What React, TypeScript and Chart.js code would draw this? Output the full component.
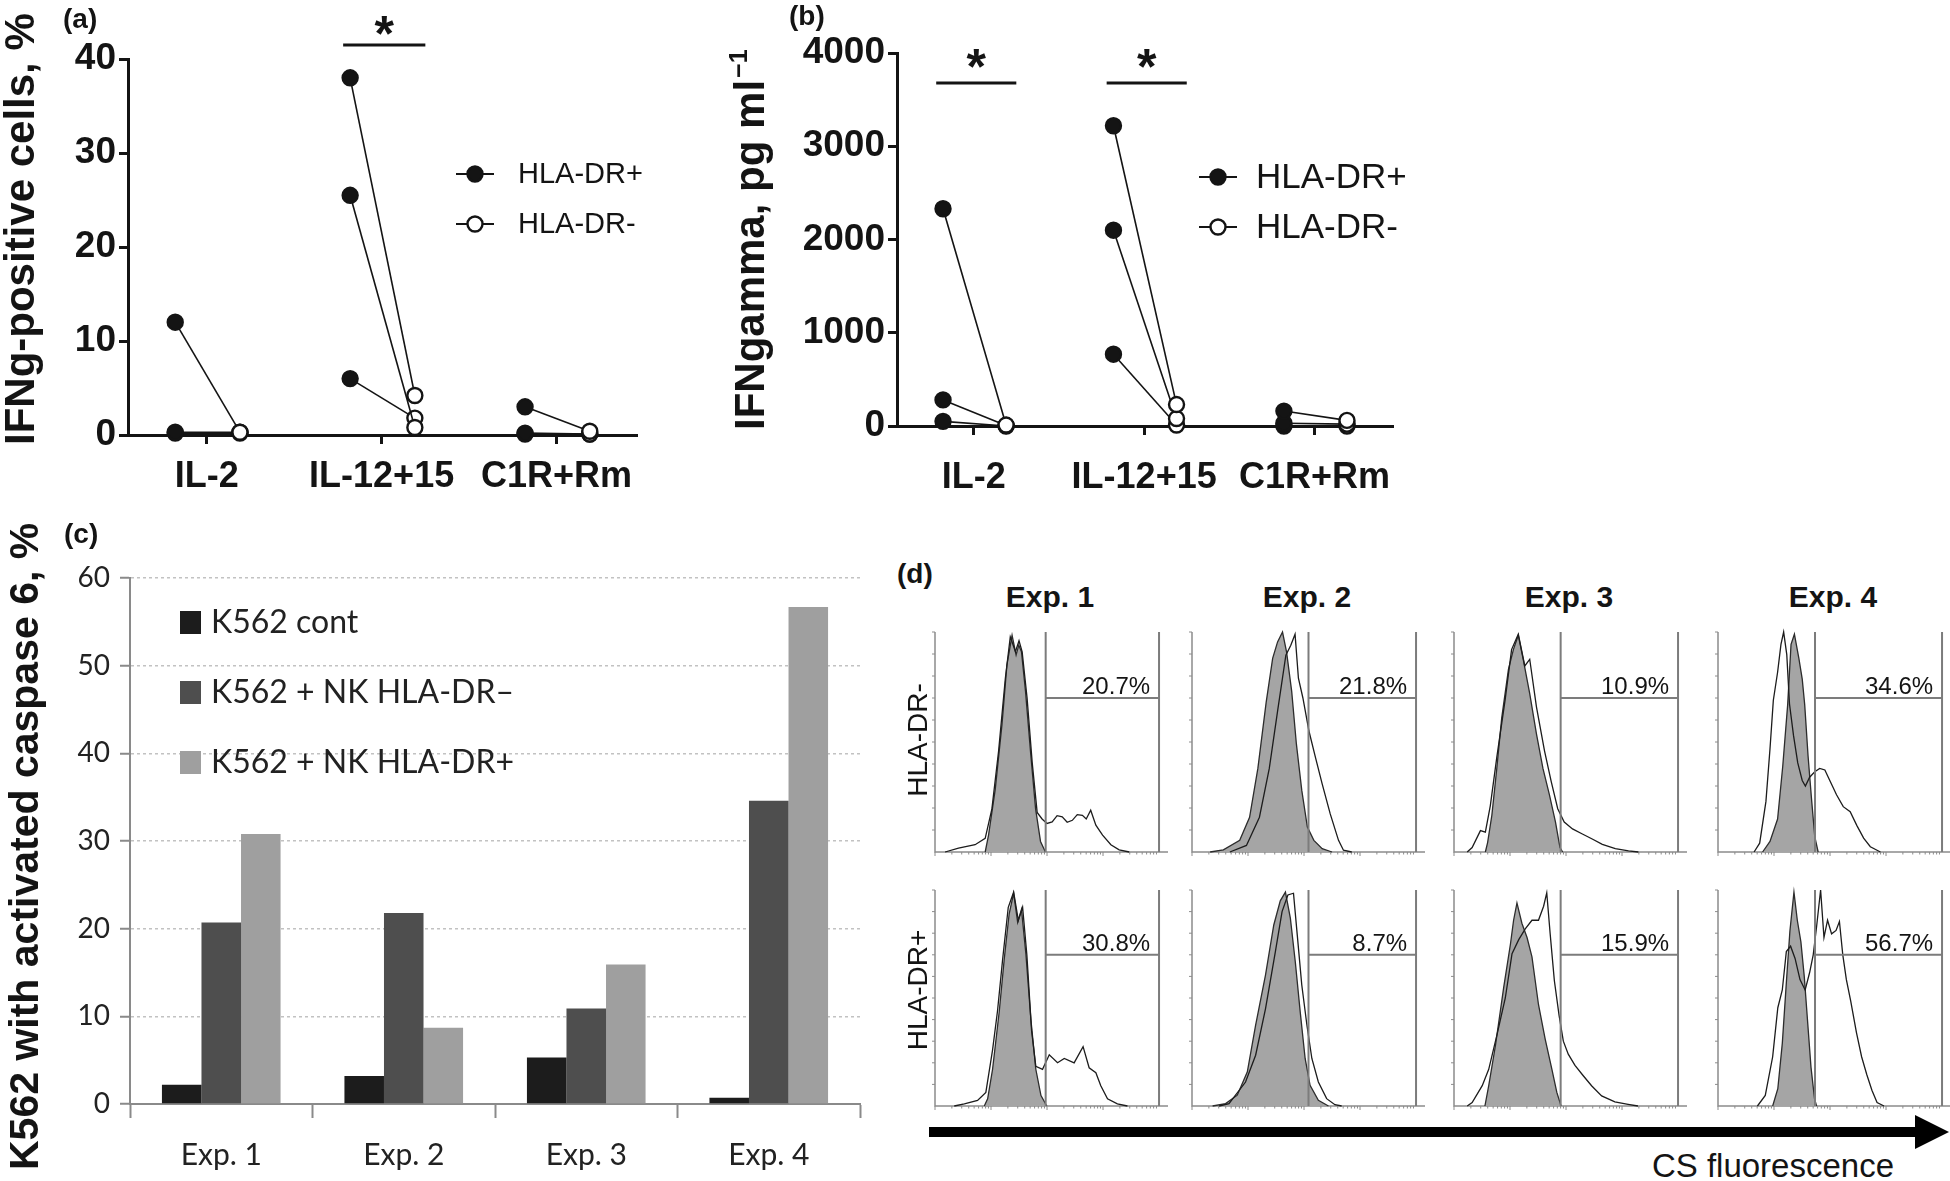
import React, { useEffect, useRef } from 'react';
import { Chart, registerables } from 'chart.js';

Chart.register(...registerables);

const ARIAL = "'Liberation Sans', Arial, Helvetica, sans-serif";
const CALIBRI = "Lato, 'Open Sans', 'Liberation Sans', sans-serif";
const INK = '#141414';

// ---------- (a) IFNg-positive cells, %
const conditions = ['IL-2', 'IL-12+15', 'C1R+Rm'];
const pctTicks = [0, 10, 20, 30, 40];
const pctDrPos = [[12, 0.3, 0.2], [38, 25.5, 6], [3, 0.2, 0.1]];
const pctDrNeg = [[0.3, 0.3, 0.2], [4.2, 0.8, 1.8], [0.4, 0.1, 0.1]];
// ---------- (b) IFNgamma, pg/ml
const concTicks = [0, 1000, 2000, 3000, 4000];
const concDrPos = [[2330, 280, 50], [3220, 2100, 770], [160, 30, 0]];
const concDrNeg = [[10, 5, 0], [230, 80, 10], [60, 20, 0]];
const pairLegend = ['HLA-DR+', 'HLA-DR-'];
const sigCatsA = [2];
const sigCatsB = [1, 2];

// ---------- (c) K562 with activated caspase 6, %
const experiments = ['Exp. 1', 'Exp. 2', 'Exp. 3', 'Exp. 4'];
const caspTicks = [0, 10, 20, 30, 40, 50, 60];
const k562Cont = [2.2, 3.2, 5.3, 0.7];
const k562NkDrNeg = [20.7, 21.8, 10.9, 34.6];
const k562NkDrPos = [30.8, 8.7, 15.9, 56.7];
const barLegend = ['K562 cont', 'K562 + NK HLA-DR\u2013', 'K562 + NK HLA-DR+'];
const barColors = ['#1c1c1c', '#4e4e4e', '#9f9f9f'];

// ---------- (d) CS fluorescence histograms ([channel, count %])
const rowLabels = ['HLA-DR-', 'HLA-DR+'];
const gateStart = [49.4, 52, 47.6, 43.3];
const gateLevel = 70;

const h1NegCtrl = [[22.4,0],[23.9,7.7],[26.9,28.6],[29.9,58],[32.1,85],[34.4,98.5],[36.2,89.6],[37.4,94],[38.6,91],[40.4,73],[42.6,46],[44.9,19.6],[47.1,4.8],[49.3,0]];
const h1NegCs = [[4.5,0],[10.5,1.8],[17.9,3.3],[22.4,6.2],[25.4,19.6],[28.4,46],[31.4,79],[33.6,97.8],[35.9,91],[37.5,96],[38.9,91],[41.1,70],[43.4,40.5],[45.6,18],[47.8,15],[50,13],[52.3,13.7],[54.5,16.5],[56.8,16],[59,13.5],[61.3,14.4],[63.5,17],[65.8,16.7],[67.5,15],[69.5,19],[71.8,12.2],[74.8,7.7],[78.5,3.3],[82.2,1],[86.7,0]];
const h1PosCtrl = [[22,0],[23.5,3.3],[25.7,17],[28.7,44],[30.9,68],[33.1,89],[35.1,98.5],[36.9,85],[38.6,91],[40.6,70],[42.8,40],[45,17],[47.3,4.8],[49.9,0]];
const h1PosCs = [[8.6,0],[13.1,1],[19,2.6],[22.7,6.3],[25.7,26],[27.9,44],[30.2,68],[32.7,92],[35.1,99],[37.2,86],[39.1,92],[41,70],[43.1,35],[45,18.4],[48,17],[51,23.7],[54.7,20],[57.7,22],[62.1,20],[66.1,27.5],[68.8,17.7],[71.8,15.4],[74,9.4],[77,3.3],[81.4,1],[85.9,0]];

const h2NegCtrl = [[8.1,0],[14,1],[21.3,5.3],[25.7,15.8],[29.4,38],[33.1,68],[36,88],[38.2,95.5],[40.4,100],[42.2,91],[44.5,73],[46.6,49],[49,28],[51.5,11.3],[54.4,5.3],[58.1,1.5],[62.5,0]];
const h2NegCs = [[16.9,0],[24.3,3],[30.1,15.8],[34.5,38],[38.2,64],[41.9,89.5],[44.1,94],[46,99],[47.5,79],[49.5,70],[52.2,55],[55.1,43],[58.1,31],[61.7,17.3],[65.4,5.3],[67.6,0.8],[71.3,0]];
const h2PosCtrl = [[9.2,0],[15,1.1],[20.2,5],[24.7,15.8],[28.4,37.4],[32.8,60.6],[36.5,83.8],[39.4,95],[41.7,99],[43.9,87],[46.1,66.8],[48.3,43.6],[50.5,22],[52.7,9.6],[56.4,2.6],[60.9,0]];
const h2PosCs = [[12.1,0],[16.5,1.1],[23.9,11.1],[28.4,23.5],[32.8,45],[37.2,71.4],[40.2,90],[42.8,97.7],[45.3,98.5],[47,79],[49,56],[51.3,37.4],[53.5,22],[56.4,11.1],[60.1,3.4],[63.8,0.6],[66.8,0]];

const h3NegCtrl = [[14,0],[15,4.3],[16.9,16.7],[19.1,38],[21.3,61],[24.3,83],[26.5,92],[28.7,98.5],[30.9,87.6],[33.8,72],[36.8,53.7],[39.7,38],[42.6,26],[45.3,13.6],[47.3,2],[48.5,0]];
const h3NegCs = [[5.9,0],[8.1,2],[11.8,9.7],[14,9],[16.2,21],[19.1,43],[22.8,69],[25.7,92],[28.7,99],[31.6,84.6],[33.8,87.6],[36.8,66],[40.4,46],[43.4,32],[46.3,19.7],[49.2,13.6],[52.9,10.5],[57.3,8.2],[61.7,5.9],[66.2,3.5],[72,1.5],[77.9,0.5],[82.3,0]];
const h3PosCtrl = [[13.8,0],[15.5,9.4],[18.5,28],[22.2,55],[25.2,75],[26.6,86],[28.1,94],[30.3,84.6],[32.6,78],[34.8,69],[37.7,47],[40.7,31],[43.7,17],[45.9,6.3],[47.8,0]];
const h3PosCs = [[5.9,0],[8.1,1.6],[12.6,9.4],[15.5,17],[19.2,33],[22.9,50],[25.9,70.5],[28.9,77],[31.8,82],[34.8,86],[37.7,86],[40,92.5],[41.4,98.7],[42.9,80],[44.8,58],[46.9,42],[48.8,30],[51,24],[54,18.8],[57.7,14],[61.4,9.4],[65.9,4.7],[71.8,1.9],[77.7,0.8],[82.1,0]];

const h4NegCtrl = [[19.9,0],[23.2,4.8],[26.6,15],[28.9,39],[31.1,67],[32.6,94.4],[34.1,99],[36.1,88],[37.6,78.6],[38.7,67],[40.2,43.6],[41.7,24.6],[43.2,7],[44.7,0]];
const h4NegCs = [[16.1,0],[18.6,4],[21.4,23],[23.2,46.8],[24.7,69],[26.6,81.7],[28.1,94.4],[29.3,100],[30.7,89.7],[31.9,67.4],[33.7,53],[35.6,40.5],[37.6,32.5],[39,30],[40.9,34],[43.2,36.5],[45.4,38],[47.7,37.3],[49.9,32.5],[52.9,26],[55.9,20.6],[59,18.3],[62,12],[65,6.3],[68,2.4],[72.5,0]];
const h4PosCtrl = [[24.4,0],[26.7,8],[28.7,29],[30.5,57],[32.1,81],[33.9,99],[35.4,86],[37,76],[38.5,60],[40,39],[41.5,18],[43.1,3.3],[44,0]];
const h4PosCs = [[17.6,0],[21.1,4.9],[24.4,22.8],[26.7,45.5],[28.7,53.7],[30.5,71.5],[32.4,74],[34.4,68.3],[36.6,58.5],[38.9,53.7],[40.9,61.8],[42.5,70],[44,83],[45.8,100],[47.3,78],[48.9,86],[50.7,79.7],[52.7,81.3],[54.2,85.4],[55.7,70],[57.3,58.5],[59.2,48.8],[61.8,34],[64.1,22.8],[66.4,14.6],[68.7,7.3],[71,1.6],[74.1,0]];

const histCtrl = [[h1NegCtrl, h2NegCtrl, h3NegCtrl, h4NegCtrl], [h1PosCtrl, h2PosCtrl, h3PosCtrl, h4PosCtrl]];
const histCs = [[h1NegCs, h2NegCs, h3NegCs, h4NegCs], [h1PosCs, h2PosCs, h3PosCs, h4PosCs]];
const gatePct = [k562NkDrNeg, k562NkDrPos];

// ---------- layout
const HIST_LEFT = [935, 1192, 1454, 1718];
const HIST_TOP = [632, 890];
const HIST_H = [220, 216];
const HIST_W = 233;
const HP = { left: 14, top: 8, right: 6, bottom: 10 };

function pairDecor(o: any) {
  return {
    id: 'pairDecor',
    afterDraw(chart: any) {
      const { ctx, scales: { x, y } } = chart;
      ctx.save();
      ctx.fillStyle = INK;
      ctx.strokeStyle = INK;
      ctx.font = `bold 28px ${ARIAL}`;
      ctx.textAlign = 'left';
      ctx.textBaseline = 'alphabetic';
      ctx.fillText(o.letter, o.letterX, o.letterY);
      ctx.save();
      ctx.translate(o.titleX, o.titleY);
      ctx.rotate(-Math.PI / 2);
      ctx.font = `bold 42px ${ARIAL}`;
      ctx.fillText(o.title, 0, 0);
      if (o.titleSup) {
        const w = ctx.measureText(o.title).width;
        ctx.font = `bold 25px ${ARIAL}`;
        ctx.fillText(o.titleSup, w + 2, -17);
      }
      ctx.restore();
      o.sig.forEach((ci: number) => {
        const x1 = x.getPixelForValue(ci - 0.22);
        const x2 = x.getPixelForValue(ci + 0.25);
        const yy = y.getPixelForValue(o.sigLevel);
        ctx.lineWidth = 3;
        ctx.beginPath();
        ctx.moveTo(x1, yy);
        ctx.lineTo(x2, yy);
        ctx.stroke();
        ctx.font = `bold 50px ${ARIAL}`;
        ctx.textAlign = 'center';
        ctx.fillText('*', (x1 + x2) / 2, yy - o.starGap + 0.48 * 50);
        ctx.textAlign = 'left';
      });
      pairLegend.forEach((name, i) => {
        const ly = o.legendRows[i];
        ctx.strokeStyle = INK;
        ctx.lineWidth = 2;
        ctx.beginPath();
        ctx.moveTo(o.legendX - 19, ly);
        ctx.lineTo(o.legendX + 19, ly);
        ctx.stroke();
        ctx.beginPath();
        ctx.arc(o.legendX, ly, 7.5, 0, Math.PI * 2);
        ctx.fillStyle = i === 0 ? INK : '#ffffff';
        ctx.fill();
        ctx.lineWidth = 2.4;
        ctx.stroke();
        ctx.fillStyle = INK;
        ctx.font = `${o.legendSize}px ${ARIAL}`;
        ctx.textBaseline = 'middle';
        ctx.fillText(name, o.legendText, ly + 1);
        ctx.textBaseline = 'alphabetic';
      });
      ctx.restore();
    },
  };
}

function pairConfig(o: any) {
  const datasets: any[] = [];
  o.plus.forEach((reps: number[], ci: number) =>
    reps.forEach((v: number, ri: number) => {
      datasets.push({
        data: [
          { x: ci + 1 - 0.18, y: v },
          { x: ci + 1 + 0.19, y: o.minus[ci][ri] },
        ],
        borderColor: INK,
        borderWidth: 1.6,
        pointRadius: 7.5,
        pointHoverRadius: 7.5,
        pointBorderWidth: 2.4,
        pointBackgroundColor: [INK, '#ffffff'],
        pointBorderColor: INK,
        clip: false,
        tension: 0,
      });
    })
  );
  return {
    type: 'line',
    data: { datasets },
    options: {
      animation: false,
      responsive: false,
      devicePixelRatio: 1,
      events: [],
      layout: { padding: { top: o.padTop, right: o.padRight, left: 0, bottom: 0 } },
      plugins: { legend: { display: false }, tooltip: { enabled: false } },
      scales: {
        x: {
          type: 'linear',
          min: 0.55,
          max: 3.46,
          afterBuildTicks: (s: any) => {
            s.ticks = conditions.map((_, i) => ({ value: i + 1 }));
          },
          afterFit: (s: any) => {
            s.height = o.xHeight;
          },
          ticks: {
            callback: (v: number) => conditions[Math.round(v) - 1] ?? '',
            font: { family: ARIAL, size: 36, weight: 'bold' },
            color: INK,
            padding: o.xPad,
            maxRotation: 0,
            autoSkip: false,
          },
          grid: { drawOnChartArea: false, drawTicks: true, tickLength: 9, tickWidth: 3, tickColor: INK },
          border: { color: INK, width: 3 },
        },
        y: {
          min: 0,
          max: o.yTicks[o.yTicks.length - 1],
          afterBuildTicks: (s: any) => {
            s.ticks = o.yTicks.map((v: number) => ({ value: v }));
          },
          afterFit: (s: any) => {
            s.width = o.yWidth;
          },
          ticks: { callback: (v: number) => String(v), font: { family: ARIAL, size: 37, weight: 'bold' }, color: INK, padding: 3 },
          grid: { drawOnChartArea: false, drawTicks: true, tickLength: 9, tickWidth: 3, tickColor: INK },
          border: { color: INK, width: 3 },
        },
      },
    },
    plugins: [pairDecor(o)],
  };
}

const buildA = () =>
  pairConfig({
    plus: pctDrPos,
    minus: pctDrNeg,
    yTicks: pctTicks,
    padTop: 59,
    padRight: 43,
    xHeight: 65,
    xPad: 11,
    yWidth: 128,
    letter: '(a)',
    letterX: 63,
    letterY: 28,
    title: 'IFNg-positive cells, %',
    titleX: 34,
    titleY: 445,
    sig: sigCatsA,
    sigLevel: 41.5,
    starGap: 18,
    legendX: 475,
    legendText: 518,
    legendRows: [174, 224],
    legendSize: 29,
  });

const buildB = () =>
  pairConfig({
    plus: concDrPos,
    minus: concDrNeg,
    yTicks: concTicks,
    padTop: 53,
    padRight: 47,
    xHeight: 74,
    xPad: 21,
    yWidth: 197,
    letter: '(b)',
    letterX: 89,
    letterY: 25,
    title: 'IFNgamma, pg ml',
    titleSup: '\u22121',
    titleX: 64,
    titleY: 430,
    sig: sigCatsB,
    sigLevel: 3678,
    starGap: 23,
    legendX: 518,
    legendText: 556,
    legendRows: [177, 227],
    legendSize: 35,
  });

const barDecor = {
  id: 'barDecor',
  afterDraw(chart: any) {
    const { ctx } = chart;
    ctx.save();
    ctx.fillStyle = INK;
    ctx.textAlign = 'left';
    ctx.textBaseline = 'alphabetic';
    ctx.font = `bold 28px ${ARIAL}`;
    ctx.fillText('(c)', 64, 43);
    ctx.save();
    ctx.translate(38, 670);
    ctx.rotate(-Math.PI / 2);
    ctx.font = `bold 41px ${ARIAL}`;
    ctx.fillText('K562 with activated caspase 6, %', 0, 0);
    ctx.restore();
    const rows = [122, 192, 262];
    barLegend.forEach((name, i) => {
      ctx.fillStyle = barColors[i];
      ctx.fillRect(180, rows[i] - 11, 21, 23);
      ctx.fillStyle = '#222';
      ctx.font = `32px ${CALIBRI}`;
      ctx.textBaseline = 'middle';
      ctx.fillText(name, 211, rows[i] + 1);
    });
    ctx.restore();
  },
};

const buildC = () => ({
  type: 'bar',
  data: {
    labels: experiments,
    datasets: [k562Cont, k562NkDrNeg, k562NkDrPos].map((d, i) => ({
      label: barLegend[i],
      data: d,
      backgroundColor: barColors[i],
      borderWidth: 0,
    })),
  },
  options: {
    animation: false,
    responsive: false,
    devicePixelRatio: 1,
    events: [],
    layout: { padding: { top: 78, right: 30, left: 0, bottom: 0 } },
    datasets: { bar: { categoryPercentage: 0.65, barPercentage: 1.0 } },
    plugins: { legend: { display: false }, tooltip: { enabled: false } },
    scales: {
      x: {
        afterFit: (s: any) => {
          s.height = 77;
        },
        ticks: { font: { family: CALIBRI, size: 30 }, color: '#222', padding: 19 },
        grid: { offset: true, drawOnChartArea: false, drawTicks: true, tickLength: 14, tickColor: '#8a8a8a', tickWidth: 2 },
        border: { color: '#8a8a8a', width: 2 },
      },
      y: {
        min: 0,
        max: 60,
        afterBuildTicks: (s: any) => {
          s.ticks = caspTicks.map((v) => ({ value: v }));
        },
        afterFit: (s: any) => {
          s.width = 130;
        },
        ticks: { font: { family: CALIBRI, size: 28 }, color: '#222', padding: 10, callback: (v: number) => String(v) },
        grid: { color: '#c2c2c2', lineWidth: 1.5, drawTicks: true, tickLength: 10, tickColor: '#8a8a8a', tickWidth: 2, tickBorderDash: [] },
        border: { color: '#8a8a8a', width: 2, dash: [3, 3] },
      },
    },
  },
  plugins: [barDecor],
});

function histDecor(col: number, label: string) {
  return {
    id: 'histDecor',
    beforeDatasetsDraw(chart: any) {
      const { ctx, scales: { x, y } } = chart;
      const x0 = x.getPixelForValue(0);
      const xe = x.getPixelForValue(104);
      const yb = y.getPixelForValue(0);
      const yt = y.getPixelForValue(100);
      ctx.save();
      ctx.strokeStyle = '#8c8c8c';
      ctx.lineWidth = 1.5;
      ctx.beginPath();
      ctx.moveTo(x0, yt);
      ctx.lineTo(x0, yb);
      ctx.lineTo(xe, yb);
      ctx.stroke();
      ctx.lineWidth = 1;
      ctx.beginPath();
      for (let v = 10; v <= 100; v += 10) {
        const py = y.getPixelForValue(v);
        ctx.moveTo(x0 - 3, py);
        ctx.lineTo(x0, py);
      }
      for (let d = 0; d < 4; d++) {
        for (let k = 1; k <= 9; k++) {
          const px = x.getPixelForValue((d + Math.log10(k)) * 25);
          ctx.moveTo(px, yb);
          ctx.lineTo(px, yb + (k === 1 ? 4 : 2.5));
        }
      }
      ctx.stroke();
      ctx.restore();
    },
    afterDatasetsDraw(chart: any) {
      const { ctx, scales: { x, y } } = chart;
      const g0 = x.getPixelForValue(gateStart[col]);
      const g1 = x.getPixelForValue(100);
      const yb = y.getPixelForValue(0);
      const yt = y.getPixelForValue(100);
      const gy = y.getPixelForValue(gateLevel);
      ctx.save();
      ctx.strokeStyle = '#7c7c7c';
      ctx.lineWidth = 2;
      ctx.beginPath();
      ctx.moveTo(g0, yb);
      ctx.lineTo(g0, yt);
      ctx.moveTo(g1, yb);
      ctx.lineTo(g1, yt);
      ctx.moveTo(g0, gy);
      ctx.lineTo(g1, gy);
      ctx.stroke();
      ctx.fillStyle = INK;
      ctx.font = `24px ${ARIAL}`;
      ctx.textAlign = 'right';
      ctx.textBaseline = 'alphabetic';
      ctx.fillText(label, x.getPixelForValue(96), gy - 4);
      ctx.restore();
    },
  };
}

function histConfig(row: number, col: number) {
  const toXY = (arr: number[][]) => arr.map(([x, y]) => ({ x, y }));
  return {
    type: 'line',
    data: {
      datasets: [
        {
          data: toXY(histCs[row][col]),
          borderColor: '#1c1c1c',
          borderWidth: 1.3,
          pointRadius: 0,
          fill: false,
          tension: 0,
          clip: false,
        },
        {
          data: toXY(histCtrl[row][col]),
          borderColor: '#2c2c2c',
          borderWidth: 1.3,
          backgroundColor: '#a5a5a5',
          pointRadius: 0,
          fill: 'origin',
          tension: 0,
          clip: false,
        },
      ],
    },
    options: {
      animation: false,
      responsive: false,
      devicePixelRatio: 1,
      events: [],
      layout: { padding: HP },
      plugins: { legend: { display: false }, tooltip: { enabled: false } },
      scales: {
        x: { type: 'linear', min: 0, max: 104, display: false },
        y: { min: 0, max: 100, display: false },
      },
    },
    plugins: [histDecor(col, `${gatePct[row][col]}%`)],
  };
}

function ChartCanvas(props: { left: number; top: number; width: number; height: number; build: () => any }) {
  const ref = useRef<HTMLCanvasElement | null>(null);
  useEffect(() => {
    const chart = new Chart(ref.current as HTMLCanvasElement, props.build());
    return () => chart.destroy();
  }, []);
  const { left, top, width, height } = props;
  return (
    <canvas
      ref={ref}
      width={width}
      height={height}
      style={{ position: 'absolute', left, top, width, height }}
    />
  );
}

export default function App() {
  useEffect(() => {
    document.body.style.margin = '0';
    document.body.style.background = '#ffffff';
  }, []);

  const hists: any[] = [];
  [0, 1].forEach((r) =>
    [0, 1, 2, 3].forEach((c) => {
      hists.push(
        <ChartCanvas
          key={`h${r}${c}`}
          left={HIST_LEFT[c] - HP.left}
          top={HIST_TOP[r] - HP.top}
          width={HP.left + HIST_W + HP.right}
          height={HP.top + HIST_H[r] + HP.bottom}
          build={() => histConfig(r, c)}
        />
      );
    })
  );

  const textBase: React.CSSProperties = { position: 'absolute', lineHeight: 1, whiteSpace: 'nowrap', color: INK, fontFamily: ARIAL };

  return (
    <div style={{ position: 'absolute', left: 0, top: 0, width: 1950, height: 1181, background: '#fff', overflow: 'hidden' }}>
      <ChartCanvas left={0} top={0} width={680} height={500} build={buildA} />
      <ChartCanvas left={700} top={0} width={740} height={500} build={buildB} />
      <ChartCanvas left={0} top={500} width={890} height={681} build={buildC} />
      {hists}
      <div style={{ ...textBase, left: 897, top: 560, fontSize: 28, fontWeight: 'bold' }}>(d)</div>
      {experiments.map((e, c) => (
        <div
          key={e}
          style={{ ...textBase, left: HIST_LEFT[c] + 115, top: 582, fontSize: 30, fontWeight: 'bold', transform: 'translateX(-50%)' }}
        >
          {e}
        </div>
      ))}
      {rowLabels.map((t, r) => (
        <div
          key={t}
          style={{
            ...textBase,
            left: 918,
            top: r === 0 ? 740 : 990,
            fontSize: 28,
            transform: 'translate(-50%, -50%) rotate(-90deg)',
          }}
        >
          {t}
        </div>
      ))}
      <div style={{ position: 'absolute', left: 929, top: 1127, width: 988, height: 10, background: '#000' }} />
      <div
        style={{
          position: 'absolute',
          left: 1915,
          top: 1115,
          width: 0,
          height: 0,
          borderLeft: '34px solid #000',
          borderTop: '17px solid transparent',
          borderBottom: '17px solid transparent',
        }}
      />
      <div style={{ ...textBase, right: 56, top: 1149, fontSize: 33 }}>CS fluorescence</div>
    </div>
  );
}
